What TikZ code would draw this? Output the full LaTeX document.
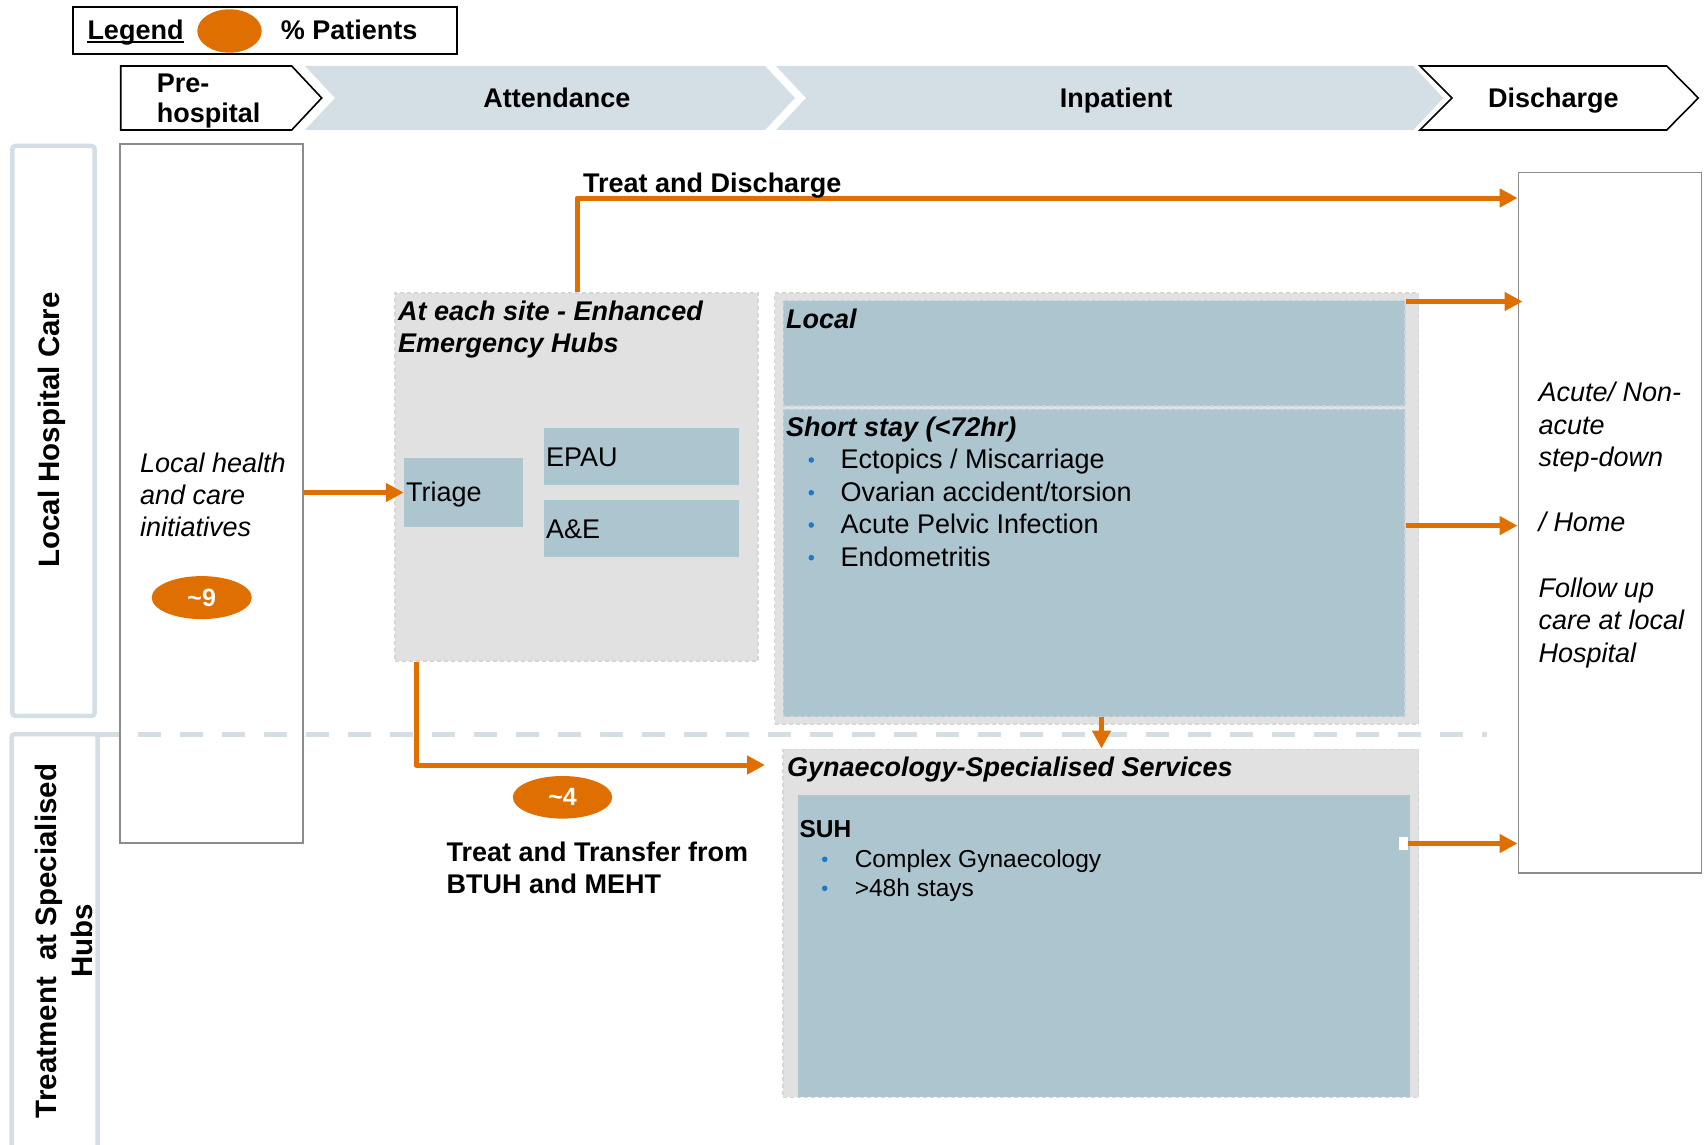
\documentclass[tikz,border=0pt]{standalone}
\usepackage{fontspec}
\setmainfont{Liberation Sans}
\usetikzlibrary{arrows.meta,shapes.geometric,calc}
\definecolor{flow}{RGB}{222,111,0}
\definecolor{band}{HTML}{D4DFE5}
\definecolor{cell}{HTML}{ADC5CF}
\definecolor{celledge}{HTML}{C6D6DD}
\definecolor{zone}{HTML}{E1E1E1}
\definecolor{zoneedge}{HTML}{D6D6D6}
\definecolor{frame}{HTML}{8C8C8C}
\definecolor{dot}{HTML}{1F78C8}
\newcommand\setsz[2]{\fontsize{#1}{#2}\selectfont}
\begin{document}
\begin{tikzpicture}[x=1pt,y=-1pt,
  tx/.style={inner sep=0, anchor=base west, font=\setsz{27}{32}},
  txbf/.style={tx, font=\setsz{27}{32}\bfseries},
  txbi/.style={tx, font=\setsz{27}{32}\bfseries\itshape},
  txit/.style={tx, font=\setsz{27}{32}\itshape},
  txlane/.style={inner sep=0, anchor=base, rotate=90, font=\setsz{29.5}{35}\bfseries},
  txlist/.style={tx, font=\setsz{27}{32}},
  txsmall/.style={tx, font=\setsz{24.5}{29}},
  txsmallbf/.style={tx, font=\setsz{24.5}{29}\bfseries},
  bullet/.style={circle, fill=dot, inner sep=0, minimum size=5.6pt},
  share/.style={ellipse, fill=flow, inner sep=0, minimum width=100pt, minimum height=43pt,
                text=white, font=\setsz{25}{28}\bfseries},
  zonebox/.style={fill=zone, draw=zoneedge, dash pattern=on 4pt off 3pt, line width=1.5pt, inner sep=0},
  cellbox/.style={fill=cell, inner sep=0},
  celldash/.style={cellbox, draw=celledge, dash pattern=on 4pt off 3pt, line width=1.2pt},
  column/.style={fill=white, draw=frame, line width=1.5pt, inner sep=0},
  lane/.style={draw=band, line width=4.5pt, rounded corners=3pt},
  flowline/.style={draw=flow, line width=5pt, line join=round, -{Triangle[length=18pt,width=18pt]}}
]
\useasboundingbox (0,0) rectangle (1706,1145);

% ---- legend ----
\node[draw=black, line width=2pt, minimum width=384pt, minimum height=46.7pt, inner sep=0] (legend) at (264.7,30.7) {};
\node[txbf] (legendword) at (87.3,39.3) {Legend};
\draw[line width=1.6pt] ([yshift=-2.6pt]legendword.base west) -- ([yshift=-2.6pt]legendword.base east);
\node[share, minimum width=64.4pt, minimum height=43.4pt] (legenddot) at (229.5,31) {};
\node[txbf] (legendtext) at (280.7,39.3) {\% Patients};

% ---- stage chevrons ----
\filldraw[fill=white, draw=black, line width=1.6pt, line join=miter]
  (120.7,66) -- (291.7,66) -- (321.7,98) -- (291.7,130) -- (120.7,130) -- cycle;
\fill[band] (305,66) -- (765,66) -- (795,98) -- (765,130) -- (305,130) -- (335,98) -- cycle;
\fill[band] (776,66) -- (1413.3,66) -- (1443.3,98) -- (1413.3,130) -- (776,130) -- (806,98) -- cycle;
\filldraw[fill=white, draw=black, line width=1.6pt, line join=miter]
  (1420,66) -- (1666.7,66) -- (1698.3,98) -- (1666.7,130) -- (1420,130) -- (1452,98) -- cycle;
\node[txbf] (hpre1) at (156.7,92.3) {Pre-};
\node[txbf] (hpre2) at (156.7,122.7) {hospital};
\node[txbf, anchor=base] (hatt) at (557,107.5) {Attendance};
\node[txbf, anchor=base] (hinp) at (1116,107.5) {Inpatient};
\node[txbf, anchor=base] (hdis) at (1553.3,107.5) {Discharge};

% ---- row labels ----
\node[lane, minimum width=82.4pt, minimum height=569.8pt, inner sep=0] (lanelocal) at (53.5,430.9) {};
\node[txlane] (lanelocaltext) at (59.5,430) {Local Hospital Care};
\draw[lane] (11.7,1152) -- (11.7,734.2) -- (97.7,734.2) -- (97.7,1152);
\node[txlane] (lanehub1) at (56.5,941) {Treatment\ \ at Specialised};
\node[txlane] (lanehub2) at (92,941) {Hubs};

% ---- pre-hospital column ----
\node[column, minimum width=183pt, minimum height=699pt] (precol) at (211.5,493.5) {};
\node[txit] (pc1) at (140,472.6) {Local health};
\node[txit] (pc2) at (140,504.6) {and care};
\node[txit] (pc3) at (140,536.6) {initiatives};

% ---- enhanced emergency hub ----
\node[zonebox, minimum width=363pt, minimum height=368pt] (hub) at (576.5,477) {};
\node[txbi] (hubt1) at (398,320) {At each site - Enhanced};
\node[txbi] (hubt2) at (398,352.7) {Emergency Hubs};
\node[cellbox, minimum width=118.7pt, minimum height=69pt] (triage) at (463.3,492.5) {};
\node[tx] (triagetext) at (406,501.7) {Triage};
\node[cellbox, minimum width=195pt, minimum height=56.7pt] (epau) at (641.5,456.3) {};
\node[tx] (epautext) at (546,466.7) {EPAU};
\node[cellbox, minimum width=195pt, minimum height=56.7pt] (ae) at (641.5,528.3) {};
\node[tx] (aetext) at (546,538) {A\&E};

% ---- local inpatient ----
\node[zonebox, minimum width=644pt, minimum height=431pt] (ipout) at (1096.5,508.5) {};
\node[celldash, minimum width=621.8pt, minimum height=105.3pt] (local) at (1094.1,353.3) {};
\node[celldash, minimum width=621.8pt, minimum height=307.4pt] (short) at (1094.1,563) {};
\node[txbi] (localtext) at (786,328.3) {Local};
\node[txbi] (shorttext) at (786,436.7) {Short stay (<72hr)};
\node[bullet] (sb1) at (811.3,460) {};
\node[txlist] (sl1) at (840.4,468.3) {Ectopics / Miscarriage};
\node[bullet] (sb2) at (811.3,492.7) {};
\node[txlist] (sl2) at (840.4,501) {Ovarian accident/torsion};
\node[bullet] (sb3) at (811.3,525) {};
\node[txlist] (sl3) at (840.4,533.3) {Acute Pelvic Infection};
\node[bullet] (sb4) at (811.3,557.7) {};
\node[txlist] (sl4) at (840.4,566) {Endometritis};

% ---- specialised services ----
\node[zonebox, minimum width=635.3pt, minimum height=348pt] (gyn) at (1100.85,923.3) {};
\node[cellbox, minimum width=612.4pt, minimum height=302.3pt] (suh) at (1104.2,946.15) {};
\node[txbi] (gyntext) at (786.8,776.7) {Gynaecology-Specialised Services};
\node[txsmallbf] (suhtext) at (799.3,837.3) {SUH};
\node[bullet] (gb1) at (824.7,859.3) {};
\node[txsmall] (gl1) at (854.6,867.7) {Complex Gynaecology};
\node[bullet] (gb2) at (824.7,888.3) {};
\node[txsmall] (gl2) at (854.6,896.7) {>48h stays};

% ---- discharge column ----
\node[column, minimum width=183.4pt, minimum height=700.3pt] (dbox) at (1610,522.85) {};
\node[txit] (d1) at (1538.3,401.7) {Acute/ Non-};
\node[txit] (d2) at (1538.3,434.2) {acute};
\node[txit] (d3) at (1538.3,466.7) {step-down};
\node[txit] (d4) at (1538.3,531.6) {/ Home};
\node[txit] (d5) at (1538.3,597) {Follow up};
\node[txit] (d6) at (1538.3,629.5) {care at local};
\node[txit] (d7) at (1538.3,662) {Hospital};

% ---- boundary between local care and specialised hubs ----
\draw[band, line width=5pt, dash pattern=on 23pt off 19pt] (96,734) -- (1487,734);

% ---- patient flows ----
\draw[flowline] (precol.east |- triage.west) -- (triage.west);

\coordinate (tdturn) at (577,198);
\draw[flowline] (hub.north -| tdturn) |- (dbox.west |- tdturn);
\node[txbf] (tdlabel) at (583,192.7) {Treat and Discharge};

\coordinate (locallvl) at (0,301.5);
\draw[flowline] (local.east |- locallvl) -- ($(dbox.west |- locallvl)+(5,0)$);

\coordinate (shortlvl) at (0,525.6);
\draw[flowline] (short.east |- shortlvl) -- (dbox.west |- shortlvl);

\coordinate (downx) at (1101.5,0);
\draw[flowline] (short.south -| downx) -- (gyn.north -| downx);

\coordinate (xferx) at (416,0);
\coordinate (xferend) at (765,765);
\draw[flowline] (hub.south -| xferx) |- (xferend);
\node[txbf] (tt1) at (446.4,861.7) {Treat and Transfer from};
\node[txbf] (tt2) at (446.4,893.3) {BTUH and MEHT};

\node[fill=white, inner sep=0, minimum width=9pt, minimum height=13pt] (suhport) at (1403.5,843.5) {};
\draw[flowline] (suhport.east) -- (dbox.west |- suhport.east);

% ---- patient shares ----
\node[share] (share9) at (201.7,597.6) {\textasciitilde 9};
\node[share, minimum width=99.4pt, minimum height=42.6pt] (share4) at (562.5,797.3) {\textasciitilde 4};
\end{tikzpicture}
\end{document}
